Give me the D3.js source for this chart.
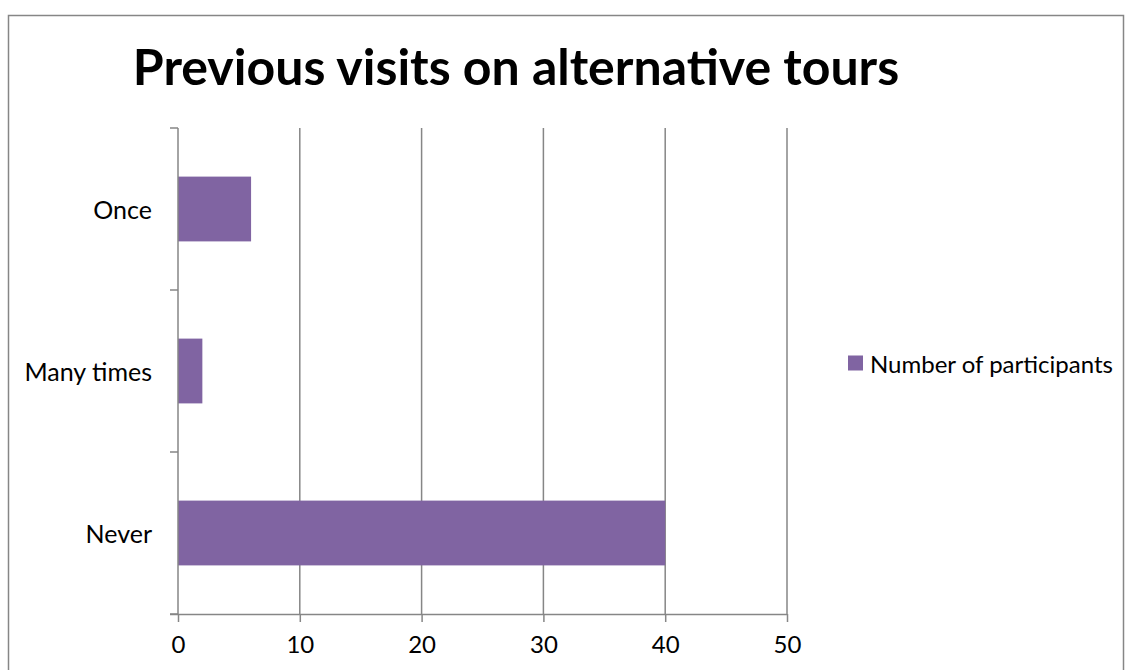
<!DOCTYPE html>
<html>
<head>
<meta charset="utf-8">
<script src="https://cdn.jsdelivr.net/npm/d3@7"></script>
<style>
  html, body { margin: 0; padding: 0; background: #fff; }
  svg { display: block; }
  text { font-family: Lato, "Open Sans", sans-serif; fill: #000; }
</style>
</head>
<body>
<svg id="chart" width="1133" height="670"></svg>
<script>
// Survey answers: how often participants had been on alternative tours before
const categories = ["Once", "Many times", "Never"];
const participants = [6, 2, 40];
const xTicks = [0, 10, 20, 30, 40, 50];
const chartTitle = "Previous visits on alternative tours";
const seriesName = "Number of participants";

const svg = d3.select("#chart");
const gridColor = "#868686";
const barColor = "#8064A2";

// Chart frame
svg.append("rect")
  .attr("x", 8.5).attr("y", 15.5)
  .attr("width", 1115).attr("height", 700)
  .attr("fill", "#fff")
  .attr("stroke", gridColor).attr("stroke-width", 1.5);

const plot = { left: 178, right: 787, top: 128, bottom: 614 };

const x = d3.scaleLinear().domain([0, 50]).range([plot.left, plot.right]);
const y = d3.scaleBand().domain(categories)
  .range([plot.top, plot.bottom])
  .paddingInner(0.6).paddingOuter(0.3);

// Vertical gridlines
svg.append("g")
  .selectAll("line")
  .data(xTicks.filter(d => d > 0))
  .join("line")
  .attr("x1", d => x(d)).attr("x2", d => x(d))
  .attr("y1", plot.top).attr("y2", plot.bottom)
  .attr("stroke", gridColor).attr("stroke-width", 1.5);

// Bars
svg.append("g")
  .selectAll("rect")
  .data(categories.map((c, i) => ({ c, v: participants[i] })))
  .join("rect")
  .attr("x", x(0))
  .attr("y", d => y(d.c))
  .attr("width", d => x(d.v) - x(0))
  .attr("height", y.bandwidth())
  .attr("fill", barColor);

// Value axis (bottom)
const xAxis = d3.axisBottom(x).tickValues(xTicks).tickSize(8).tickPadding(14).tickFormat(d3.format("d"));
const gx = svg.append("g").attr("transform", `translate(0,${plot.bottom})`).call(xAxis);
gx.select(".domain").attr("d", `M${plot.left - 8},0.5H${plot.right}`).attr("stroke", gridColor).attr("stroke-width", 1.5);
gx.selectAll(".tick line").attr("stroke", gridColor).attr("stroke-width", 1.5);
gx.selectAll(".tick text").style("font-family", "Lato, 'Open Sans', sans-serif").style("font-size", "24px").attr("fill", "#000");

// Category axis (left) with ticks on band boundaries
svg.append("line")
  .attr("x1", plot.left).attr("x2", plot.left)
  .attr("y1", plot.top).attr("y2", plot.bottom)
  .attr("stroke", gridColor).attr("stroke-width", 1.5);

const boundaries = categories.map((c, i) => plot.top + i * y.step());
boundaries.push(plot.bottom);
svg.append("g")
  .selectAll("line")
  .data(boundaries)
  .join("line")
  .attr("x1", plot.left - 8).attr("x2", plot.left)
  .attr("y1", d => d).attr("y2", d => d)
  .attr("stroke", gridColor).attr("stroke-width", 1.5);

svg.append("g")
  .selectAll("text")
  .data(categories)
  .join("text")
  .attr("x", 152)
  .attr("y", d => y(d) + y.bandwidth() / 2)
  .attr("text-anchor", "end")
  .attr("dominant-baseline", "central")
  .style("font-size", "25px")
  .text(d => d);

// Title
svg.append("text")
  .attr("x", 516).attr("y", 85)
  .attr("text-anchor", "middle")
  .style("font-size", "50px")
  .style("font-weight", "bold")
  .text(chartTitle);

// Legend
const legend = svg.append("g").attr("transform", "translate(848,363)");
legend.append("rect")
  .attr("x", 0).attr("y", -7.5).attr("width", 15).attr("height", 15)
  .attr("fill", barColor);
legend.append("text")
  .attr("x", 22).attr("y", 0)
  .attr("dominant-baseline", "central")
  .style("font-size", "24px")
  .text(seriesName);
</script>
</body>
</html>
